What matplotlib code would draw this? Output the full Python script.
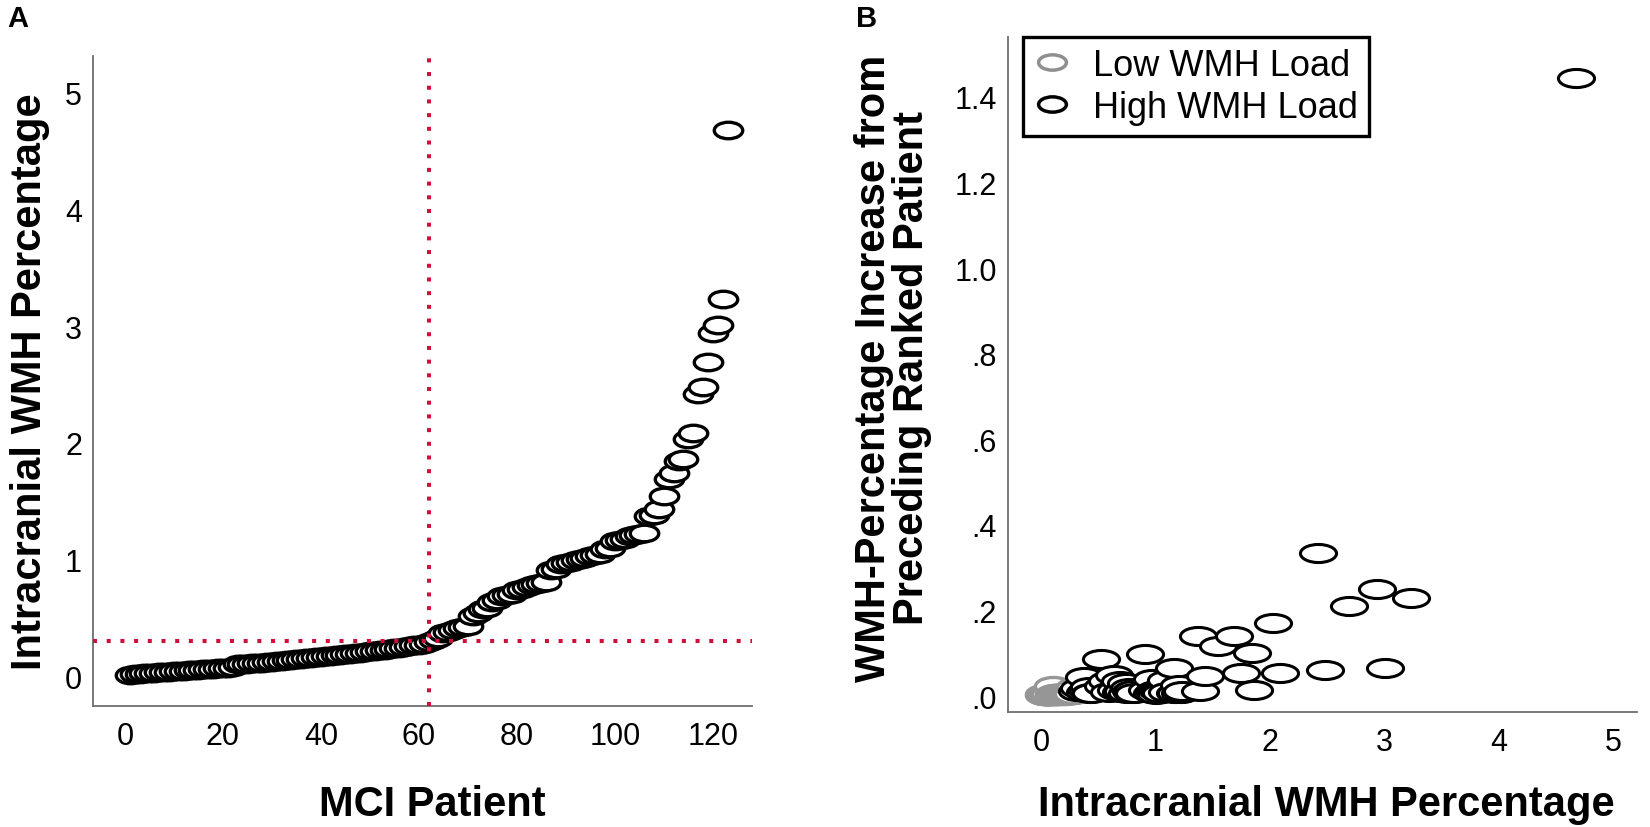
import numpy as np
import matplotlib
matplotlib.use("Agg")
import matplotlib.pyplot as plt
from matplotlib.path import Path
from matplotlib.transforms import Affine2D
from matplotlib.lines import Line2D

plt.rcParams['font.family'] = ['Liberation Sans', 'DejaVu Sans']

# ---------------- data ----------------
# Intracranial WMH percentage of each MCI patient, sorted ascending (rank 1..123)
wmh_low = [
    0.018, 0.024, 0.027, 0.031, 0.034, 0.036, 0.040, 0.043, 0.045, 0.048,
    0.051, 0.053, 0.056, 0.058, 0.061, 0.063, 0.066, 0.069, 0.071, 0.074,
    0.077, 0.081, 0.105, 0.109, 0.112, 0.115, 0.118, 0.121, 0.126, 0.130,
    0.134, 0.139, 0.142, 0.146, 0.151, 0.155, 0.158, 0.163, 0.167, 0.171,
    0.175, 0.178, 0.184, 0.189, 0.193, 0.198, 0.204, 0.207, 0.212, 0.218,
    0.222, 0.227, 0.233, 0.238, 0.243, 0.249, 0.256, 0.262, 0.268, 0.273,
    0.278, 0.300,
]
wmh_high = [
    0.312, 0.330, 0.375, 0.384, 0.398, 0.420, 0.428, 0.436, 0.522, 0.545,
    0.580, 0.590, 0.640, 0.655, 0.690, 0.700, 0.712, 0.742, 0.750, 0.770,
    0.782, 0.790, 0.805, 0.812, 0.910, 0.925, 0.965, 0.972, 0.985, 1.000,
    1.006, 1.018, 1.030, 1.045, 1.052, 1.090, 1.100, 1.165, 1.172, 1.180,
    1.205, 1.212, 1.220, 1.232, 1.372, 1.385, 1.432, 1.550, 1.690, 1.745,
    1.845, 1.860, 2.030, 2.085, 2.420, 2.480, 2.690, 2.940, 3.005, 3.235,
    4.680,
]
wmh_threshold = 0.305        # horizontal dotted line (percentage)
split_rank = 62              # vertical dotted line (patient rank)

xticks_A = [0, 20, 40, 60, 80, 100, 120]
yticks_A = [0, 1, 2, 3, 4, 5]
xticks_B = [0, 1, 2, 3, 4, 5]
yticks_B = [0.0, 0.2, 0.4, 0.6, 0.8, 1.0, 1.2, 1.4]
yticklabels_B = ['.0', '.2', '.4', '.6', '.8', '1.0', '1.2', '1.4']
legend_labels = ['Low WMH Load', 'High WMH Load']

wmh = np.array(wmh_low + wmh_high)
rank = np.arange(1, len(wmh) + 1)
increase = np.diff(wmh)          # increase from preceding ranked patient
n_low = len(wmh_low)

# ---------------- styling ----------------
W, H = 1650, 828
RED = '#d0103a'
GRAY = '#969696'
SPINE = '#6e6e6e'


def ellipse(ratio):
    return Path.unit_circle().transformed(Affine2D().scale(1.0, ratio))


fig = plt.figure(figsize=(W / 100, H / 100), dpi=100)
fig.patch.set_facecolor('white')

# ---------- panel A ----------
axA = fig.add_axes([93 / W, 1 - 707 / H, (752 - 93) / W, (707 - 57) / H])
axA.plot(rank, wmh, ls='none', marker=ellipse(0.58), ms=20.5, mfc='white',
         mec='black', mew=2.4, zorder=2)
dots = (0, (1, 2.4))
axA.axvline(split_rank, color=RED, ls=dots, lw=2.9, zorder=3)
axA.axhline(wmh_threshold, color=RED, ls=dots, lw=2.9, zorder=3)
axA.set_xlim(-6.5, 128)
axA.set_ylim(-0.25, 5.31)
axA.set_xticks(xticks_A)
axA.set_yticks(yticks_A)
axA.set_xlabel('MCI Patient', fontsize=30, fontweight='bold')
axA.set_ylabel('Intracranial WMH Percentage', fontsize=30, fontweight='bold')
axA.xaxis.set_label_coords((432 - 93) / 659, -(785 - 707) / 650)
axA.yaxis.set_label_coords((50 - 93) / 659, 0.5)

# ---------- panel B ----------
axB = fig.add_axes([1008 / W, 1 - 713 / H, (1637 - 1008) / W, (713 - 38) / H])
axB.plot(wmh[1:n_low], increase[:n_low - 1], ls='none', marker=ellipse(0.5),
         ms=26, mfc='white', mec=GRAY, mew=2.4, zorder=2)
axB.plot(wmh[n_low:], increase[n_low - 1:], ls='none', marker=ellipse(0.5),
         ms=26, mfc='white', mec='black', mew=2.2, zorder=3)
axB.set_xlim(-0.29, 5.21)
axB.set_ylim(-0.037, 1.54)
axB.set_xticks(xticks_B)
axB.set_yticks(yticks_B)
axB.set_yticklabels(yticklabels_B)
axB.set_xlabel('Intracranial WMH Percentage', fontsize=30, fontweight='bold')
axB.set_ylabel('WMH-Percentage Increase from\nPreceding Ranked Patient',
               fontsize=30, fontweight='bold', linespacing=0.92)
axB.xaxis.set_label_coords((1326 - 1008) / 629, -(785 - 713) / 675)
axB.yaxis.set_label_coords((932 - 1008) / 629, 0.511)

handles = [
    Line2D([], [], ls='none', marker=ellipse(0.55), ms=20, mfc='white',
           mec='#8f8f8f', mew=2.5),
    Line2D([], [], ls='none', marker=ellipse(0.55), ms=20, mfc='white',
           mec='black', mew=2.5),
]
leg = axB.legend(handles, legend_labels, loc='upper left',
                 bbox_to_anchor=(15 / 629, 1.0), fontsize=26, frameon=True,
                 fancybox=False, edgecolor='black', framealpha=1,
                 borderpad=0.3, handlelength=1.0, handletextpad=0.65,
                 labelspacing=0.2, borderaxespad=0)
leg.get_frame().set_linewidth(2.4)

for ax in (axA, axB):
    for side in ('top', 'right'):
        ax.spines[side].set_visible(False)
    for side in ('left', 'bottom'):
        ax.spines[side].set_color(SPINE)
        ax.spines[side].set_linewidth(1.3)
    ax.tick_params(axis='both', length=0, labelsize=22)
    ax.tick_params(axis='x', pad=11)
    ax.tick_params(axis='y', pad=8)

fig.text(7 / W, 1 - 5 / H, 'A', fontsize=21, fontweight='bold', va='top', ha='left')
fig.text(856 / W, 1 - 5 / H, 'B', fontsize=21, fontweight='bold', va='top', ha='left')

fig.savefig('out.png', dpi=100, facecolor='white')
